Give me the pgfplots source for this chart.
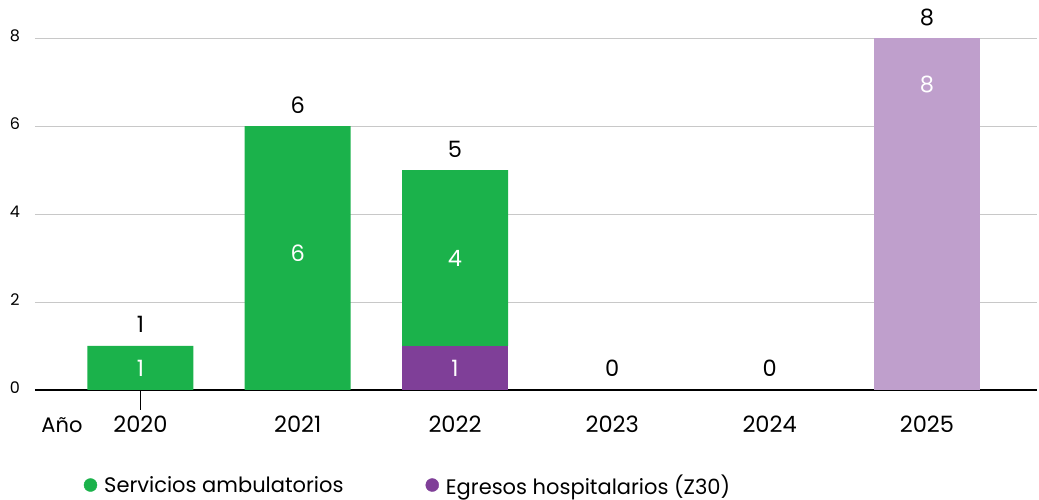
\documentclass[border=0pt]{standalone}
\usepackage{pgfplots}
\pgfplotsset{compat=1.18}
\usepackage{fontspec}
\setmainfont{Poppins}
\definecolor{cgreen}{HTML}{1BB24B}
\definecolor{cpurple}{HTML}{7F3F98}
\definecolor{clpurple}{HTML}{BF9FCC}
\definecolor{gridgray}{HTML}{C8C8C8}
\newcommand{\bigf}{\fontsize{21}{25}\selectfont}
\newcommand{\numf}{\fontsize{22.5}{26}\selectfont}
\pgfplotsset{common/.style={
  scale only axis, width=1002pt, height=352pt,
  xmin=-0.67, xmax=5.70, ymin=0, ymax=8, clip=false}}
\begin{document}
\begin{tikzpicture}
\begin{axis}[
  name=ax, common,
  ybar stacked, bar width=106pt,
  axis x line*=bottom, axis y line*=left,
  x axis line style={-, line width=2.5pt, black},
  y axis line style={draw=none},
  ytick={0,2,4,6,8}, ymajorgrids,
  grid style={line width=0.8pt, color=gridgray},
  ytick style={draw=none},
  xtick={0,1,2,3,4,5}, xticklabels={2020,2021,2022,2023,2024,2025},
  xtick style={draw=none},
  /pgf/number format/assume math mode=true,
  yticklabel style={font=\fontsize{16}{19}\selectfont, anchor=center, xshift=-20pt, yshift=2pt},
  xticklabel style={font=\numf, anchor=base, yshift=-43pt},
]
\addplot[fill=cpurple, draw=none] coordinates {(0,0) (1,0) (2,1) (3,0) (4,0) (5,0)};
\addplot[fill=cgreen, draw=none] coordinates {(0,1) (1,6) (2,4) (3,0) (4,0) (5,0)};
\addplot[fill=clpurple, draw=none] coordinates {(0,0) (1,0) (2,0) (3,0) (4,0) (5,8)};
\draw[line width=1.2pt] (axis cs:0,0) -- ++(0pt,-20pt);
\end{axis}
\begin{axis}[
  common, axis lines=none,
  legend style={at={(rel axis cs:0.0485,-0.27)}, anchor=west, draw=none, fill=none, inner sep=0pt, font=\bigf, legend columns=2,
    /tikz/every odd column/.append style={column sep=5pt},
    /tikz/every even column/.append style={column sep=80pt}},
  legend cell align=left,
]
% inner value labels
\addplot[forget plot, draw=none, mark=none, nodes near coords, point meta=explicit symbolic,
  every node near coord/.append style={anchor=center, text=white, font=\numf}]
  coordinates {(0,0.5)[1] (1,3.1)[6] (2,3)[4] (2,0.5)[1] (5,6.95)[8]};
% totals
\addplot[forget plot, draw=none, mark=none, nodes near coords, point meta=explicit symbolic,
  every node near coord/.append style={anchor=base, yshift=13pt, text=black, font=\numf}]
  coordinates {(0,1)[1] (1,6)[6] (2,5)[5] (3,0)[0] (4,0)[0] (5,8)[8]};
\addlegendimage{legend image code/.code={\fill[cgreen] (0pt,0pt) circle (6.5pt);}}
\addlegendentry{Servicios ambulatorios}
\addlegendimage{legend image code/.code={\fill[cpurple] (0pt,0pt) circle (6.5pt);}}
\addlegendentry{Egresos hospitalarios (Z30)}
\end{axis}
\node[font=\bigf, anchor=base] at ([shift={(27pt,-43pt)}]ax.south west) {Año};
\pgfresetboundingbox
\path[use as bounding box] ([shift={(-35pt,-110pt)}]ax.south west) rectangle ([shift={(1004pt,390pt)}]ax.south west);
\end{tikzpicture}
\end{document}
